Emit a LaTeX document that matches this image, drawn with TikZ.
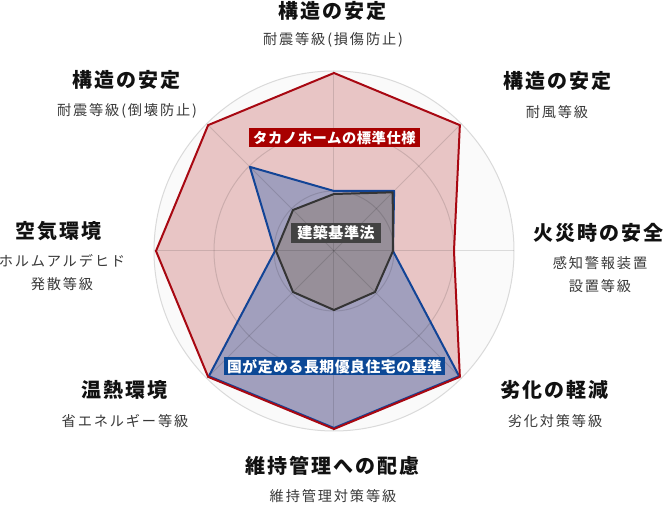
\documentclass[tikz,border=0pt]{standalone}
\usepackage{fontspec}
\setmainfont{Noto Sans CJK JP}
\newfontfamily\ttlfont[LetterSpace=10]{Noto Sans CJK JP}
\newfontfamily\subfont[LetterSpace=13]{Noto Sans CJK JP}
\newfontfamily\boxfont[LetterSpace=4]{Noto Sans CJK JP}
\usetikzlibrary{calc}
\definecolor{redline}{RGB}{168,8,18}
\definecolor{redfill}{RGB}{232,197,197}
\definecolor{blueline}{RGB}{18,68,150}
\definecolor{bluefill}{RGB}{161,159,189}
\definecolor{grayfill}{RGB}{151,143,153}
\definecolor{grayline}{RGB}{52,52,52}
\definecolor{gridline}{RGB}{218,218,218}
\definecolor{bgfill}{RGB}{250,250,250}
\definecolor{redtag}{RGB}{168,0,0}
\definecolor{bluetag}{RGB}{12,72,150}
\definecolor{graytag}{RGB}{66,66,66}
\definecolor{ttltext}{RGB}{17,17,17}
\definecolor{subtext}{RGB}{56,56,56}
\def\radar[#1](#2:#3:#4:#5:#6:#7:#8:#9){\draw[#1] (90:#2) -- (45:#3) -- (0:#4) -- (-45:#5) -- (-90:#6) -- (-135:#7) -- (180:#8) -- (135:#9) -- cycle;}

\begin{document}
\begin{tikzpicture}[x=1pt, y=1pt,
	axttl/.style={font=\ttlfont\bfseries\fontsize{20}{22}\selectfont, text=ttltext},
	axsub/.style={font=\subfont\fontsize{14.2}{23}\selectfont, text=subtext, align=center},
	legbox/.style={text=white, inner sep=0pt}]
			%%%%% START %%%%%
			\useasboundingbox (-334, -254) rectangle (333, 251);
			
			\draw[fill=bgfill, draw=gridline, line width=1] (0, 0) circle (180);
			
			\radar[fill=redfill, draw=none](178:178:120:178:178:178:178:178);
			\radar[fill=bluefill, draw=none](60:85:59:177:177:177:59:119);
			\radar[fill=grayfill, draw=none](57:83:59:58:59:58:58:58);
			
			\draw[line width=1, draw=black, opacity=0.12] (0, 0) circle (60);
			\draw[line width=1, draw=black, opacity=0.12] (0, 0) circle (120);
			\draw[line width=1, draw=black, opacity=0.12] (90:180) -- (-90:180);
			\draw[line width=1, draw=black, opacity=0.12] (0:180) -- (180:180);
			\draw[line width=1, draw=black, opacity=0.12] (45:180) -- (-135:180);
			\draw[line width=1, draw=black, opacity=0.12] (135:180) -- (-45:180);
			
			\radar[draw=blueline, line width=2, line join=round](60:85:59:177:177:177:59:119);
			\radar[draw=grayline, line width=2, line join=round](57:83:59:58:59:58:58:58);
			\radar[draw=redline, line width=2, line join=round](178:178:120:178:178:178:178:178);
			
			\node[legbox, fill=redtag, minimum width=171, minimum height=19, font=\boxfont\bfseries\fontsize{14.3}{16}\selectfont] (tag-taka) at (0.5, 113) {タカノホームの標準仕様};
			\node[legbox, fill=graytag, minimum width=90, minimum height=20, font=\boxfont\bfseries\fontsize{15}{16}\selectfont] (tag-law) at (2, 18) {建築基準法};
			\node[legbox, fill=bluetag, minimum width=221, minimum height=18, font=\boxfont\bfseries\fontsize{14.8}{16}\selectfont] (tag-long) at (0.5, -115.5) {国が定める長期優良住宅の基準};
			
			\node[axttl] (ttl-top) at (-1, 240) {構造の安定};
			\node[axsub] (sub-top) at (-1, 211) {耐震等級(損傷防止)};
			
			\node[axttl] (ttl-ur) at (223, 170) {構造の安定};
			\node[axsub] (sub-ur) at (223, 139) {耐風等級};
			
			\node[axttl] (ttl-r) at (264, 18) {火災時の安全};
			\node[axsub] (sub-r) at (266, -24) {感知警報装置\\設置等級};
			
			\node[axttl] (ttl-lr) at (220, -139) {劣化の軽減};
			\node[axsub] (sub-lr) at (221, -170) {劣化対策等級};
			
			\node[axttl] (ttl-b) at (-1, -215) {維持管理への配慮};
			\node[axsub] (sub-b) at (-1, -245) {維持管理対策等級};
			
			\node[axttl] (ttl-ll) at (-209, -139) {温熱環境};
			\node[axsub] (sub-ll) at (-209, -170) {省エネルギー等級};
			
			\node[axttl] (ttl-l) at (-275, 20) {空気環境};
			\node[axsub] (sub-l) at (-272, -21.5) {ホルムアルデヒド\\発散等級};
			
			\node[axttl] (ttl-ul) at (-207, 171) {構造の安定};
			\node[axsub] (sub-ul) at (-207, 140) {耐震等級(倒壊防止)};
			
			%%%%% END %%%%%
\end{tikzpicture}
\end{document}
